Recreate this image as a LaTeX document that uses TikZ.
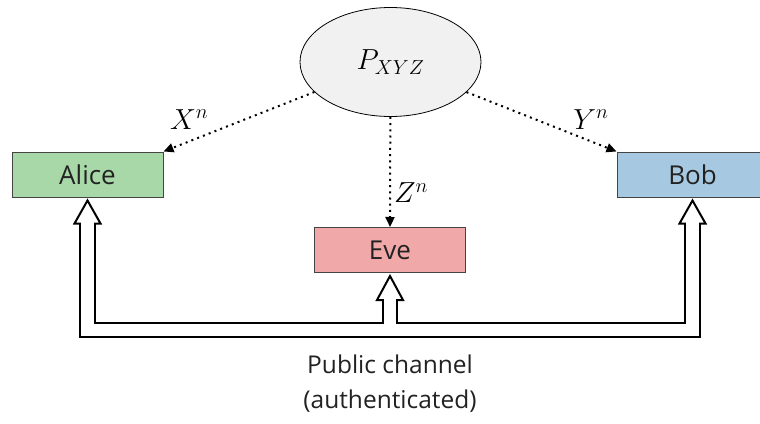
\documentclass[tikz,border=0pt]{standalone}
\usepackage{fix-cm}
\usepackage{fontspec}
\setmainfont{Open Sans}
\usetikzlibrary{calc,shapes.geometric,arrows.meta}

\definecolor{alicefill}{HTML}{A8D8A8}
\definecolor{bobfill}{HTML}{A6C8E0}
\definecolor{evefill}{HTML}{F0A8A8}
\definecolor{srcfill}{HTML}{F1F1F1}
\definecolor{edge}{HTML}{444444}
\definecolor{ink}{HTML}{222222}

\tikzset{
  party/.style={draw=edge, line width=1pt, rectangle, minimum width=151pt,
    minimum height=45pt, inner sep=0pt, text=ink,
    font=\fontsize{26}{30}\selectfont},
  source/.style={draw=black, line width=0.8pt, ellipse, fill=srcfill,
    minimum width=181pt, minimum height=109pt, inner sep=0pt},
  leak/.style={line width=2pt, dash pattern=on 2pt off 4.2pt,
    -{Triangle[length=10pt,width=9pt]}},
  mathlbl/.style={font=\fontsize{29}{34}\selectfont, inner sep=1pt},
  busouter/.style={line width=16.5pt, black},
  businner/.style={line width=12.5pt, white},
  headbox/.style={fill=white, draw=black, line width=2pt, line join=miter},
  caption/.style={align=center, text=ink, font=\fontsize{24.5}{35}\selectfont}
}

% open arrow head: base centre #1, tip #2
\newcommand{\openhead}[2]{%
  \filldraw[headbox] ($(#1)+(-13,0)$) -- (#2) -- ($(#1)+(13,0)$) -- cycle;}

\begin{document}
\begin{tikzpicture}[x=1pt,y=-1pt]
  \useasboundingbox (0,0) rectangle (760,423);
  \clip (0,0) rectangle (760,423);

  % source and the three parties
  \node[source] (src) at (390.5,62) {\fontsize{29}{34}\selectfont$P_{XYZ}$};
  \node[party, fill=alicefill] (alice) at (87.5,174.5) {Alice};
  \node[party, fill=bobfill]   (bob)   at (692.5,174.5) {Bob};
  \node[party, fill=evefill]   (eve)   at (390,250) {Eve};

  % correlated outputs of the source
  \draw[leak] (src) -- (alice.north east)
    node[mathlbl, pos=0.83, above=10pt] (lx) {$X^n$};
  \draw[leak] (src) -- (bob.north west)
    node[mathlbl, pos=0.83, above=10pt] (ly) {$Y^n$};
  \draw[leak] (src) -- (eve.north)
    node[mathlbl, pos=0.69, right=2pt] (lz) {$Z^n$};

  % public channel (double-line bus with open heads)
  \coordinate (atip)  at ($(alice.south)+(0,3)$);
  \coordinate (btip)  at ($(bob.south)+(0,3)$);
  \coordinate (etip)  at ($(eve.south)+(0,3)$);
  \coordinate (abase) at ($(alice.south)+(0,26)$);
  \coordinate (bbase) at ($(bob.south)+(0,26)$);
  \coordinate (ebase) at ($(eve.south)+(0,27)$);
  \coordinate (bus)   at (390,330);

  \draw[busouter] (abase) |- (bus) -| (bbase);
  \draw[busouter] (bus) -- (ebase);
  \openhead{abase}{atip}
  \openhead{bbase}{btip}
  \openhead{ebase}{etip}
  \draw[businner] ($(abase)+(0,-1.5)$) |- (bus) -| ($(bbase)+(0,-1.5)$);
  \draw[businner] (bus) -- ($(ebase)+(0,-1.5)$);

  \node[caption] (cap) at (390,384) {Public channel\\(authenticated)};
\end{tikzpicture}
\end{document}
